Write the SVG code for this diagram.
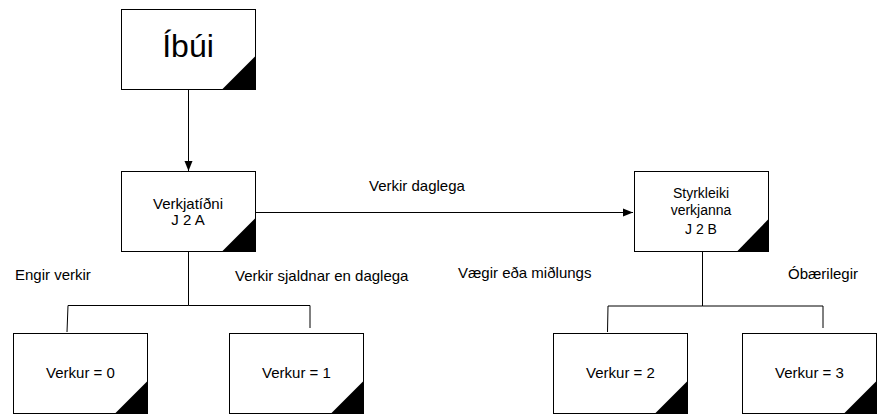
<svg xmlns="http://www.w3.org/2000/svg" width="883" height="415" viewBox="0 0 883 415">
<style>
.box{fill:#fff;stroke:#000;stroke-width:1}
.tri{fill:#000}
.t{font-family:"Liberation Sans",Arial,sans-serif;font-size:15px;fill:#000}
.c{text-anchor:middle}
.ln{fill:none;stroke:#000;stroke-width:1}
</style>
<defs>
<marker id="ah" viewBox="0 0 10 10" refX="10" refY="5" markerWidth="10" markerHeight="10" markerUnits="userSpaceOnUse" orient="auto">
<path d="M0,1 L10,5 L0,9 Z" fill="#000"/>
</marker>
</defs>
<g id="connectors">
<line class="ln" x1="188.5" y1="89" x2="188.5" y2="171" marker-end="url(#ah)"/>
<line class="ln" x1="256" y1="212.5" x2="633" y2="212.5" marker-end="url(#ah)"/>
<polyline class="ln" points="188.5,252 188.5,305.5 68,305.5 67,332"/>
<polyline class="ln" points="188.5,305.5 310,305.5 310,328"/>
<polyline class="ln" points="702.5,252 702.5,306 608,306 607.5,332"/>
<polyline class="ln" points="702.5,306 823,306 823,328"/>
</g>
<g id="lbl-daglega"><text class="t" x="369" y="191">Verkir daglega</text></g>
<g id="lbl-engir"><text class="t" x="15" y="280">Engir verkir</text></g>
<g id="lbl-sjaldnar"><text class="t" x="235" y="281">Verkir sjaldnar en daglega</text></g>
<g id="lbl-vaegir"><text class="t" x="458" y="278">Vægir eða miðlungs</text></g>
<g id="lbl-obaerilegir"><text class="t" x="788" y="279">Óbærilegir</text></g>
<g id="ibui">
<rect class="box" x="121.5" y="9.5" width="134" height="80"/>
<polygon class="tri" points="222,89.5 255.5,56 255.5,89.5"/>
<text class="t c" x="188" y="57" style="font-size:32px">Íbúi</text>
</g>
<g id="verkjatidni">
<rect class="box" x="121.5" y="171.5" width="134" height="80"/>
<polygon class="tri" points="222,251.5 255.5,218 255.5,251.5"/>
<text class="t c" x="188" y="209">Verkjatíðni</text>
<text class="t c" x="188" y="225">J 2 A</text>
</g>
<g id="styrkleiki">
<rect class="box" x="634.5" y="171.5" width="134" height="80"/>
<polygon class="tri" points="737,251.5 768.5,219 768.5,251.5"/>
<text class="t c" x="701" y="198" style="font-size:14px">Styrkleiki</text>
<text class="t c" x="701" y="215" style="font-size:14px">verkjanna</text>
<text class="t c" x="701" y="234" style="font-size:14px">J 2 B</text>
</g>
<g id="verkur0">
<rect class="box" x="13.5" y="333.5" width="134" height="80"/>
<polygon class="tri" points="115,413.5 147.5,381 147.5,413.5"/>
<text class="t c" x="80.5" y="378">Verkur = 0</text>
</g>
<g id="verkur1">
<rect class="box" x="229.5" y="333.5" width="134" height="80"/>
<polygon class="tri" points="331,413.5 363.5,381 363.5,413.5"/>
<text class="t c" x="296.5" y="378">Verkur = 1</text>
</g>
<g id="verkur2">
<rect class="box" x="553.5" y="333.5" width="134" height="80"/>
<polygon class="tri" points="655,413.5 687.5,381 687.5,413.5"/>
<text class="t c" x="620.5" y="378">Verkur = 2</text>
</g>
<g id="verkur3">
<rect class="box" x="742.5" y="333.5" width="134" height="80"/>
<polygon class="tri" points="844,413.5 876.5,381 876.5,413.5"/>
<text class="t c" x="809.5" y="378">Verkur = 3</text>
</g>
</svg>
